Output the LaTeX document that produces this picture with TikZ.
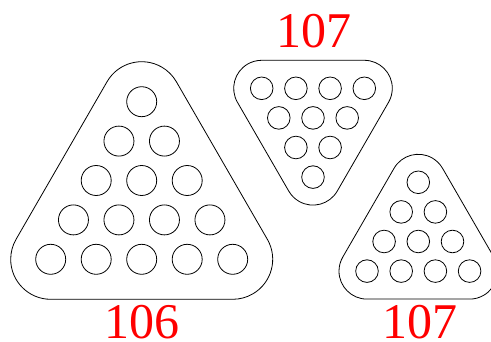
\documentclass[tikz,border=0pt]{standalone}
\usepackage{fontspec}
\setmainfont{Liberation Serif}
\begin{document}
\begin{tikzpicture}[x=1pt,y=1pt,line width=0.8pt,
  bighole/.style={circle,draw,inner sep=0pt,minimum size=30pt},
  smallhole/.style={circle,draw,inner sep=0pt,minimum size=22.6pt},
  lbl/.style={text=red,font=\fontsize{50}{50}\selectfont,anchor=base,inner sep=0pt,text depth=0pt}]
\clip (0,0) rectangle (491,-342);
\useasboundingbox (0,0) rectangle (491,-342);
% ---- left big rack (5 rows) ----
\def\s{45.5}\def\v{39.4}
\foreach \r in {0,...,4}{
  \foreach \c in {0,...,\r}{
    \node[bighole] (A-\r-\c) at ({141.7+(\c-\r/2)*\s},{-101.7-\r*\v}) {};
  }
}
\coordinate (AT) at (141.7,-101.7);
\coordinate (AL) at ({141.7-2*\s},{-101.7-4*\v});
\coordinate (AR) at ({141.7+2*\s},{-101.7-4*\v});
\draw ([shift={(150:40pt)}]AT) arc[start angle=150,end angle=30,radius=40pt]
  -- ([shift={(30:40pt)}]AR) arc[start angle=30,end angle=-90,radius=40pt]
  -- ([shift={(-90:40pt)}]AL) arc[start angle=270,end angle=150,radius=40pt] -- cycle;
\node[lbl] (L106) at (142,-338.5) {106};
% ---- middle inverted rack ----
\def\t{34.2}\def\w{29.6}
\foreach \r in {0,...,3}{
  \pgfmathtruncatemacro{\n}{3-\r}
  \foreach \c in {0,...,\n}{
    \node[smallhole] (B-\r-\c) at ({313+(\c-\n/2)*\t},{-88.3-\r*\w}) {};
  }
}
\coordinate (BL) at ({313-1.5*\t},-88.3);
\coordinate (BR) at ({313+1.5*\t},-88.3);
\coordinate (BB) at (313,{-88.3-3*\w});
\draw ([shift={(90:28pt)}]BL) -- ([shift={(90:28pt)}]BR)
  arc[start angle=90,end angle=-30,radius=28pt]
  -- ([shift={(-30:28pt)}]BB) arc[start angle=-30,end angle=-150,radius=28pt]
  -- ([shift={(210:28pt)}]BL) arc[start angle=210,end angle=90,radius=28pt] -- cycle;
\node[lbl] (T107) at (313.5,-47.3) {107};
% ---- right small rack ----
\foreach \r in {0,...,3}{
  \foreach \c in {0,...,\r}{
    \node[smallhole] (C-\r-\c) at ({418.3+(\c-\r/2)*\t},{-182.3-\r*\w}) {};
  }
}
\coordinate (CT) at (418.3,-182.3);
\coordinate (CL) at ({418.3-1.5*\t},{-182.3-3*\w});
\coordinate (CR) at ({418.3+1.5*\t},{-182.3-3*\w});
\draw ([shift={(150:28pt)}]CT) arc[start angle=150,end angle=30,radius=28pt]
  -- ([shift={(30:28pt)}]CR) arc[start angle=30,end angle=-90,radius=28pt]
  -- ([shift={(-90:28pt)}]CL) arc[start angle=270,end angle=150,radius=28pt] -- cycle;
\node[lbl] (R107) at (419.5,-338.5) {107};
\end{tikzpicture}
\end{document}
